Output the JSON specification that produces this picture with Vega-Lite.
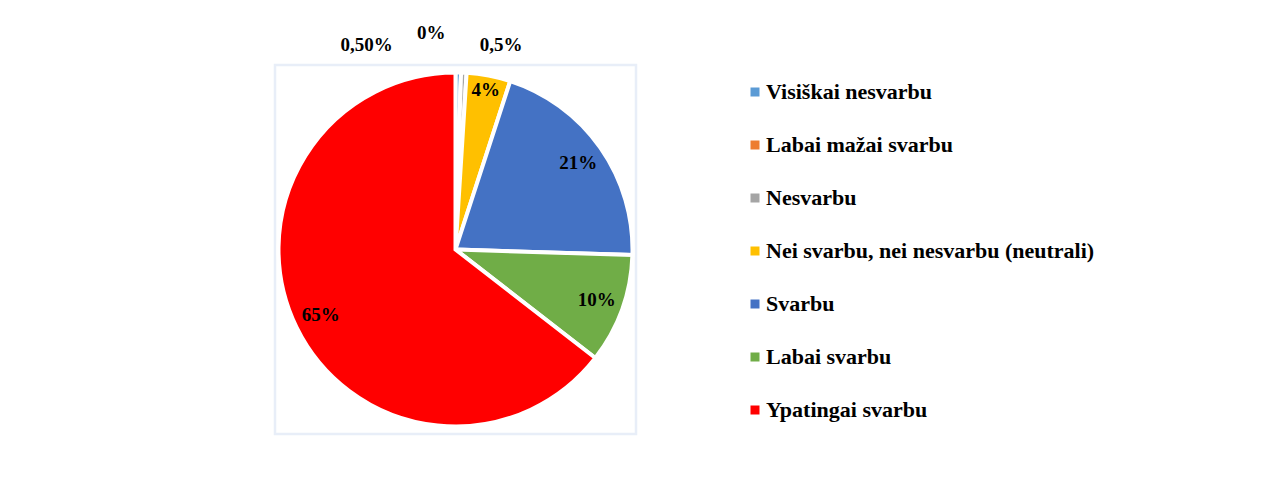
{
  "$schema": "https://vega.github.io/schema/vega-lite/v6.json",
  "width": 361,
  "height": 369,
  "autosize": {"type": "none"},
  "padding": {"left": 275, "top": 65, "right": 636, "bottom": 48},
  "background": "white",
  "view": {"stroke": "#e8eef8", "strokeWidth": 2.5},
  "config": {"view": {"stroke": "#e8eef8", "strokeWidth": 2.5}},
  "data": {
    "values": [
      {"k": 1, "cat": "Visiškai nesvarbu", "pct": 0.5, "label": "0,50%"},
      {"k": 2, "cat": "Labai mažai svarbu", "pct": 0, "label": "0%"},
      {"k": 3, "cat": "Nesvarbu", "pct": 0.5, "label": "0,5%"},
      {"k": 4, "cat": "Nei svarbu, nei nesvarbu (neutrali)", "pct": 4, "label": "4%"},
      {"k": 5, "cat": "Svarbu", "pct": 20.5, "label": "21%"},
      {"k": 6, "cat": "Labai svarbu", "pct": 10, "label": "10%"},
      {"k": 7, "cat": "Ypatingai svarbu", "pct": 64.5, "label": "65%"}
    ]
  },
  "encoding": {
    "theta": {"field": "pct", "type": "quantitative", "stack": true},
    "order": {"field": "k", "type": "quantitative"}
  },
  "layer": [
    {
      "mark": {"type": "arc", "outerRadius": 177, "stroke": "white", "strokeWidth": 4},
      "encoding": {
        "color": {
          "field": "cat",
          "type": "nominal",
          "scale": {
            "domain": ["Visiškai nesvarbu", "Labai mažai svarbu", "Nesvarbu", "Nei svarbu, nei nesvarbu (neutrali)", "Svarbu", "Labai svarbu", "Ypatingai svarbu"],
            "range": ["#5B9BD5", "#ED7D31", "#A5A5A5", "#FFC000", "#4472C4", "#70AD47", "#FF0000"]
          },
          "legend": {
            "orient": "none",
            "direction": "vertical",
            "legendX": 469,
            "legendY": 16,
            "title": null,
            "symbolType": "square",
            "symbolSize": 81,
            "symbolStrokeWidth": 0,
            "labelFont": "Liberation Serif",
            "labelFontWeight": "bold",
            "labelFontSize": 22,
            "labelColor": "#000000",
            "labelLimit": 600,
            "labelOffset": 0,
            "rowPadding": 31
          }
        }
      }
    },
    {
      "mark": {"type": "text", "radius": 150, "font": "Liberation Serif", "fontWeight": "bold", "fontSize": 19, "color": "#000000"},
      "encoding": {"text": {"condition": {"test": "datum.k >= 5", "field": "label"}, "value": ""}}
    },
    {
      "mark": {"type": "text", "radius": 162, "font": "Liberation Serif", "fontWeight": "bold", "fontSize": 19, "color": "#000000"},
      "encoding": {"text": {"condition": {"test": "datum.k == 4", "field": "label"}, "value": ""}}
    },
    {
      "mark": {"type": "text", "radius": 205, "dx": -92, "font": "Liberation Serif", "fontWeight": "bold", "fontSize": 19, "color": "#000000"},
      "encoding": {"text": {"condition": {"test": "datum.k == 1", "field": "label"}, "value": ""}}
    },
    {
      "mark": {"type": "text", "radius": 217, "dx": -31, "font": "Liberation Serif", "fontWeight": "bold", "fontSize": 19, "color": "#000000"},
      "encoding": {"text": {"condition": {"test": "datum.k == 2", "field": "label"}, "value": ""}}
    },
    {
      "mark": {"type": "text", "radius": 205, "dx": 36, "font": "Liberation Serif", "fontWeight": "bold", "fontSize": 19, "color": "#000000"},
      "encoding": {"text": {"condition": {"test": "datum.k == 3", "field": "label"}, "value": ""}}
    }
  ]
}
